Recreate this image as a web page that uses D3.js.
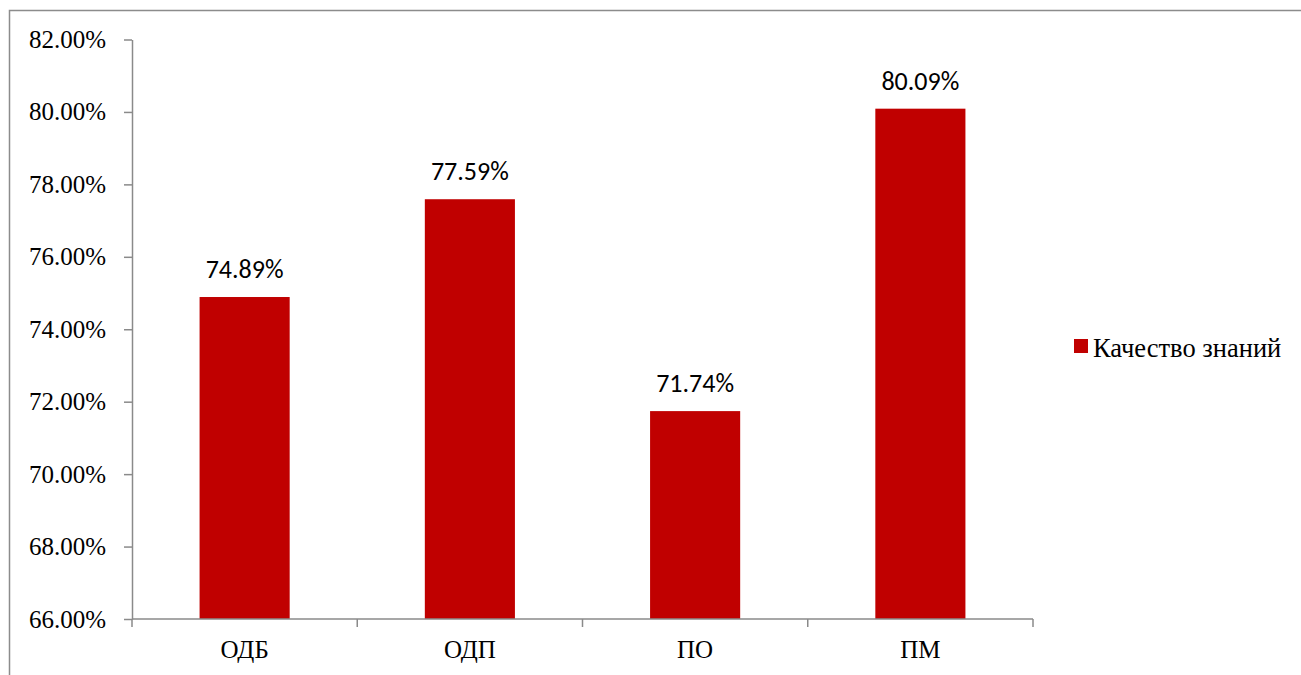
<!DOCTYPE html>
<html><head><meta charset="utf-8">
<script src="https://cdn.jsdelivr.net/npm/d3@7/dist/d3.min.js"></script>
<style>body{margin:0;background:#fff}svg{display:block}</style>
</head><body>
<svg id="c" width="1301" height="675"></svg>
<script>
const categories = ["ОДБ", "ОДП", "ПО", "ПМ"];
const values = [74.89, 77.59, 71.74, 80.09];
const seriesName = "Качество знаний";
const yTicks = [66, 68, 70, 72, 74, 76, 78, 80, 82];

const svg = d3.select("#c");
const serif = "Liberation Serif";
const sans = "Carlito";
const axisColor = "#8a8a8a";

// outer chart border (top and left visible)
svg.append("path").attr("d", "M9.5,675 V10.5 H1301").attr("fill","none").attr("stroke","#8c8c8c").attr("stroke-width",1.5);

const x = d3.scaleBand().domain(categories).range([132, 1033]).paddingInner(0.6).paddingOuter(0.3);
const y = d3.scaleLinear().domain([66, 82]).range([619, 39.5]);

// bars
svg.selectAll("rect.bar").data(values).enter().append("rect")
  .attr("class","bar")
  .attr("x", (d,i)=>x(categories[i]))
  .attr("width", x.bandwidth())
  .attr("y", d=>y(d))
  .attr("height", d=>y(66)-y(d))
  .attr("fill", "#C00000");

// value labels
svg.selectAll("text.val").data(values).enter().append("text")
  .attr("class","val")
  .attr("x", (d,i)=>x(categories[i]) + x.bandwidth()/2)
  .attr("y", d=>y(d) - 19)
  .attr("text-anchor","middle")
  .attr("font-family", sans).attr("font-size", 26).attr("fill","#000")
  .text(d=>d.toFixed(2)+"%");

// y axis
const yAxis = d3.axisLeft(y).tickValues(yTicks).tickSize(8).tickSizeOuter(0).tickPadding(18)
  .tickFormat(d=>d.toFixed(2)+"%");
const ga = svg.append("g").attr("transform","translate(132,0)").call(yAxis);
ga.attr("font-family", serif);
ga.select(".domain").attr("stroke", axisColor).attr("stroke-width",1.5);
ga.selectAll(".tick line").attr("stroke", axisColor).attr("stroke-width",1.5);
ga.selectAll(".tick text").attr("font-family", serif).attr("font-size", 25).attr("fill","#000");

// x axis
const xb = svg.append("g");
xb.append("line").attr("x1",132).attr("x2",1033).attr("y1",619).attr("y2",619).attr("stroke",axisColor).attr("stroke-width",1.5);
const tickXs = [132].concat(categories.map((c,i)=> 132 + x.step()*(i+1)));
xb.selectAll("line.t").data(tickXs).enter().append("line")
  .attr("class","t")
  .attr("x1",d=>d).attr("x2",d=>d).attr("y1",619).attr("y2",627).attr("stroke",axisColor).attr("stroke-width",1.5);
xb.selectAll("text").data(categories).enter().append("text")
  .attr("x", d=>x(d)+x.bandwidth()/2).attr("y", 658)
  .attr("text-anchor","middle").attr("font-family", serif).attr("font-size", 25).attr("fill","#000")
  .text(d=>d);

// legend
const lg = svg.append("g");
lg.append("rect").attr("x",1074).attr("y",339).attr("width",14).attr("height",14).attr("fill","#C00000");
lg.append("text").attr("x",1093).attr("y",357).attr("font-family", serif).attr("font-size",26.5).attr("fill","#000").text(seriesName);
</script>
</body></html>
